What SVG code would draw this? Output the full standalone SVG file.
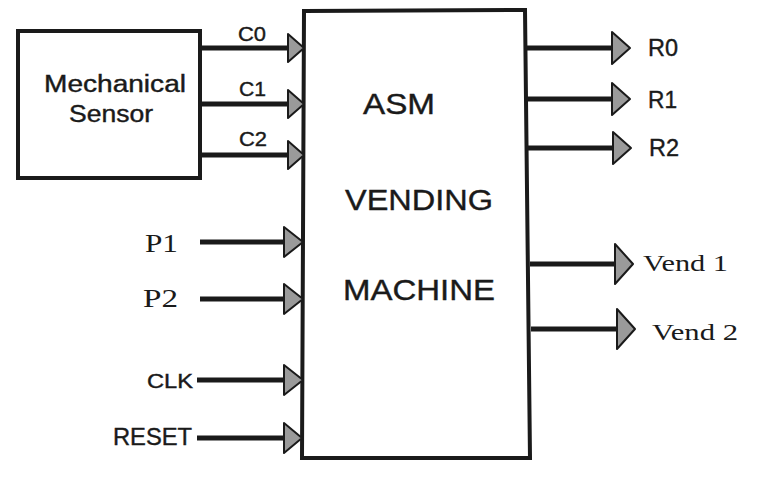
<svg xmlns="http://www.w3.org/2000/svg" width="775" height="478" viewBox="0 0 775 478">
<style>
.box{fill:#fff;stroke:#1a1a1a;stroke-width:4}
.wire{stroke:#1a1a1a;stroke-width:5;fill:none}
.head{fill:#9a9a9a;stroke:#1a1a1a;stroke-width:2;stroke-linejoin:round}
.sans{font-family:"Liberation Sans","Open Sans",Arial,sans-serif;fill:#1a1a1a;stroke:#1a1a1a;stroke-width:0.4}
.serif{font-family:"Liberation Serif","Times New Roman",serif;fill:#1a1a1a}
</style>
<rect width="775" height="478" fill="#fff"/>
<g id="sensor">
<rect class="box" x="18" y="31" width="182" height="147"/>
<text class="sans" x="115" y="92" font-size="23" text-anchor="middle" textLength="142" lengthAdjust="spacingAndGlyphs">Mechanical</text>
<text class="sans" x="111" y="122" font-size="23" text-anchor="middle" textLength="84" lengthAdjust="spacingAndGlyphs">Sensor</text>
</g>
<g id="asm">
<polygon class="box" points="304,11 525,10 530,458 302,458"/>
<text class="sans" x="363" y="114" font-size="30" textLength="72" lengthAdjust="spacingAndGlyphs">ASM</text>
<text class="sans" x="345" y="210" font-size="30" textLength="148" lengthAdjust="spacingAndGlyphs">VENDING</text>
<text class="sans" x="343" y="300" font-size="30" textLength="152" lengthAdjust="spacingAndGlyphs">MACHINE</text>
</g>
<g id="connectors">
<line class="wire" x1="200" y1="48" x2="290" y2="48"/>
<polygon class="head" points="288,34 304,48 288,62"/>
<line class="wire" x1="200" y1="104" x2="290" y2="104"/>
<polygon class="head" points="288,90 304,104 288,118"/>
<line class="wire" x1="200" y1="155" x2="290" y2="155"/>
<polygon class="head" points="288,141 304,155 288,169"/>
<line class="wire" x1="200" y1="242" x2="286" y2="242"/>
<polygon class="head" points="284,227 303,242 284,257"/>
<line class="wire" x1="200" y1="299" x2="286" y2="299"/>
<polygon class="head" points="284,284 303,299 284,314"/>
<line class="wire" x1="197" y1="380" x2="286" y2="380"/>
<polygon class="head" points="284,365 303,380 284,395"/>
<line class="wire" x1="197" y1="438" x2="286" y2="438"/>
<polygon class="head" points="284,423 302,438 284,453"/>
<line class="wire" x1="526" y1="48" x2="614" y2="48"/>
<polygon class="head" points="612,32 630,48 612,64"/>
<line class="wire" x1="526" y1="99" x2="614" y2="99"/>
<polygon class="head" points="612,83 630,99 612,115"/>
<line class="wire" x1="527" y1="148" x2="615" y2="148"/>
<polygon class="head" points="613,132 631,148 613,164"/>
<line class="wire" x1="530" y1="264" x2="617" y2="264"/>
<polygon class="head" points="615,244 633,264 615,284"/>
<line class="wire" x1="531" y1="329" x2="619" y2="329"/>
<polygon class="head" points="617,309 635,329 617,349"/>
</g>
<g id="labels">
<text class="sans" x="238" y="41" font-size="20" textLength="28" lengthAdjust="spacingAndGlyphs">C0</text>
<text class="sans" x="239" y="96" font-size="20" textLength="27" lengthAdjust="spacingAndGlyphs">C1</text>
<text class="sans" x="239" y="146" font-size="20" textLength="28" lengthAdjust="spacingAndGlyphs">C2</text>
<text class="serif" x="145" y="252" font-size="26" textLength="33" lengthAdjust="spacingAndGlyphs">P1</text>
<text class="serif" x="143" y="307" font-size="26" textLength="35" lengthAdjust="spacingAndGlyphs">P2</text>
<text class="sans" x="147" y="388" font-size="21" textLength="46" lengthAdjust="spacingAndGlyphs">CLK</text>
<text class="sans" x="113" y="445" font-size="23" textLength="79" lengthAdjust="spacingAndGlyphs">RESET</text>
<text class="sans" x="648" y="56" font-size="23" textLength="30" lengthAdjust="spacingAndGlyphs">R0</text>
<text class="sans" x="648" y="108" font-size="23" textLength="29" lengthAdjust="spacingAndGlyphs">R1</text>
<text class="sans" x="649" y="156" font-size="23" textLength="30" lengthAdjust="spacingAndGlyphs">R2</text>
<text class="serif" x="643" y="271" font-size="24" textLength="85" lengthAdjust="spacingAndGlyphs">Vend 1</text>
<text class="serif" x="652" y="340" font-size="24" textLength="86" lengthAdjust="spacingAndGlyphs">Vend 2</text>
</g>
</svg>
